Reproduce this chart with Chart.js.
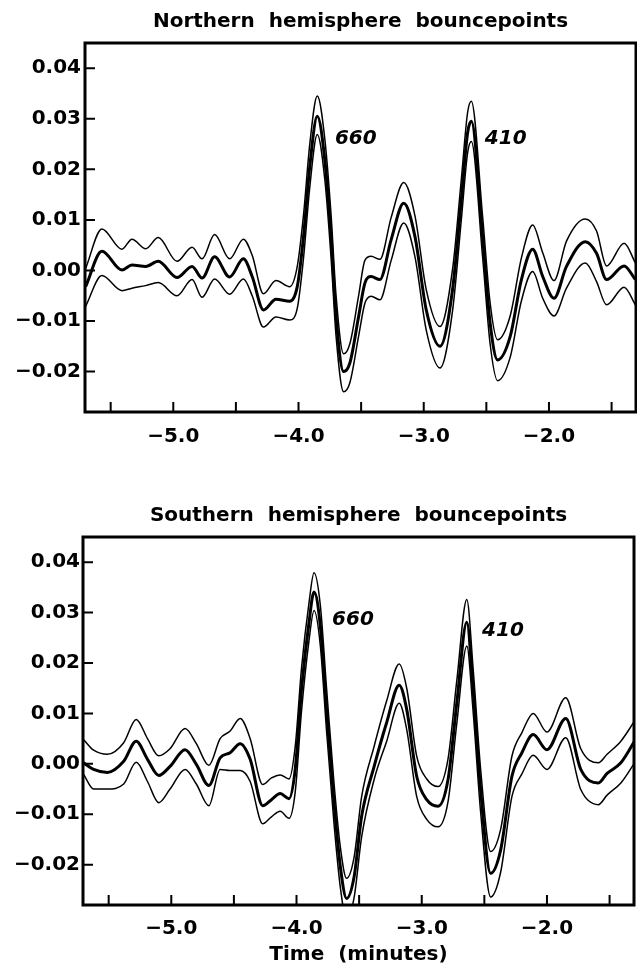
<!DOCTYPE html>
<html>
<head>
<meta charset="utf-8">
<title>Bouncepoints</title>
<script src="https://cdn.jsdelivr.net/npm/chart.js@4.4.1/dist/chart.umd.min.js"></script>
<style>
  html, body { margin: 0; padding: 0; background: #fff; }
  #wrap { position: relative; width: 637px; height: 969px; }
  canvas { position: absolute; left: 0; }
  #north { top: 0; }
  #south { top: 480px; }
</style>
</head>
<body>
<div id="wrap">
  <canvas id="north" width="637" height="480"></canvas>
  <canvas id="south" width="637" height="489"></canvas>
</div>
<script>
// ---------------------------
// Data
// time in minutes, amplitude
// ---------------------------
const northTime = [-5.70, -5.57, -5.41, -5.33, -5.22, -5.12, -4.97, -4.85, -4.77, -4.67, -4.55, -4.44, -4.37,
  -4.28, -4.18, -4.07, -4.01, -3.96, -3.91, -3.85, -3.79, -3.74, -3.70, -3.64, -3.59, -3.52, -3.47, -3.42,
  -3.35, -3.26, -3.16, -3.07, -2.98, -2.87, -2.77, -2.70, -2.65, -2.62, -2.53, -2.47, -2.41, -2.31, -2.22,
  -2.13, -2.05, -1.96, -1.86, -1.71, -1.62, -1.54, -1.40, -1.31];
const northMean = [-0.0032, 0.0038, 0.0001, 0.0011, 0.0008, 0.0018, -0.0014, 0.0008, -0.0015, 0.0027, -0.0013, 0.0023, -0.0012,
  -0.0078, -0.0057, -0.0061, -0.0032, 0.0067, 0.0206, 0.0305, 0.0219, 0.0067, -0.0091, -0.0200, -0.0183, -0.0091, -0.0025, -0.0012,
  -0.0018, 0.0061, 0.0133, 0.0067, -0.0078, -0.0150, -0.0038, 0.0140, 0.0272, 0.0295, 0.0067, -0.0104, -0.0177, -0.0131, -0.0018,
  0.0042, -0.0012, -0.0055, 0.0008, 0.0057, 0.0034, -0.0018, 0.0009, -0.0018];
const northUpper = [0.0004, 0.0082, 0.0042, 0.0062, 0.0043, 0.0065, 0.0018, 0.0046, 0.0023, 0.0071, 0.0023, 0.0062, 0.0030,
  -0.0046, -0.0020, -0.0032, 0.0008, 0.0110, 0.0250, 0.0345, 0.0260, 0.0110, -0.0050, -0.0165, -0.0145, -0.0050, 0.0020, 0.0028,
  0.0022, 0.0105, 0.0174, 0.0108, -0.0038, -0.0111, 0.0002, 0.0180, 0.0312, 0.0335, 0.0107, -0.0064, -0.0137, -0.0090, 0.0025,
  0.0090, 0.0035, -0.0020, 0.0058, 0.0102, 0.0078, 0.0009, 0.0054, 0.0015];
const northLower = [-0.0071, -0.0010, -0.0040, -0.0035, -0.0030, -0.0024, -0.0050, -0.0018, -0.0053, -0.0017, -0.0047, -0.0017, -0.0050,
  -0.0112, -0.0092, -0.0098, -0.0075, 0.0025, 0.0165, 0.0269, 0.0180, 0.0025, -0.0130, -0.0240, -0.0222, -0.0130, -0.0065, -0.0051,
  -0.0058, 0.0020, 0.0094, 0.0027, -0.0118, -0.0193, -0.0080, 0.0100, 0.0232, 0.0255, 0.0027, -0.0145, -0.0218, -0.0172, -0.0060,
  -0.0002, -0.0055, -0.0090, -0.0035, 0.0015, -0.0022, -0.0068, -0.0033, -0.0068];

const southTime = [-5.70, -5.62, -5.51, -5.38, -5.28, -5.19, -5.10, -5.01, -4.89, -4.80, -4.70, -4.61, -4.53, -4.45,
  -4.37, -4.27, -4.20, -4.13, -4.06, -4.01, -3.96, -3.90, -3.86, -3.81, -3.76, -3.70, -3.65, -3.60, -3.54, -3.48,
  -3.38, -3.28, -3.18, -3.12, -3.04, -2.96, -2.87, -2.79, -2.72, -2.64, -2.59, -2.53, -2.45, -2.37, -2.28, -2.20,
  -2.11, -2.00, -1.85, -1.73, -1.59, -1.52, -1.41, -1.30];
const southMean = [0.0002, -0.0011, -0.0017, 0.0005, 0.0045, 0.0009, -0.0023, -0.0005, 0.0028, -0.0001, -0.0043, 0.0012, 0.0022, 0.0040,
  0.0009, -0.0083, -0.0071, -0.0059, -0.0069, -0.0010, 0.0148, 0.0281, 0.0341, 0.0274, 0.0108, -0.0078, -0.0204, -0.0267, -0.0224, -0.0104,
  -0.0005, 0.0082, 0.0156, 0.0108, -0.0025, -0.0071, -0.0084, -0.0031, 0.0121, 0.0281, 0.0148, -0.0051, -0.0217, -0.0171, -0.0025, 0.0022,
  0.0058, 0.0028, 0.0090, -0.0011, -0.0038, -0.0019, 0.0002, 0.0045];
const southUpper = [0.0048, 0.0027, 0.0019, 0.0042, 0.0088, 0.0050, 0.0016, 0.0030, 0.0070, 0.0040, -0.0003, 0.0050, 0.0065, 0.0090,
  0.0050, -0.0041, -0.0028, -0.0022, -0.0030, 0.0035, 0.0190, 0.0320, 0.0379, 0.0315, 0.0150, -0.0040, -0.0165, -0.0227, -0.0185, -0.0065,
  0.0035, 0.0125, 0.0198, 0.0150, 0.0015, -0.0030, -0.0045, 0.0010, 0.0165, 0.0326, 0.0190, -0.0010, -0.0174, -0.0130, 0.0015, 0.0062,
  0.0100, 0.0063, 0.0131, 0.0030, 0.0002, 0.0019, 0.0045, 0.0085];
const southLower = [-0.0021, -0.0050, -0.0050, -0.0040, 0.0003, -0.0035, -0.0077, -0.0050, -0.0011, -0.0040, -0.0083, -0.0011, -0.0013, -0.0013,
  -0.0035, -0.0119, -0.0105, -0.0094, -0.0108, -0.0055, 0.0105, 0.0245, 0.0304, 0.0235, 0.0065, -0.0120, -0.0245, -0.0310, -0.0265, -0.0145,
  -0.0031, 0.0045, 0.0120, 0.0068, -0.0065, -0.0110, -0.0125, -0.0075, 0.0080, 0.0234, 0.0105, -0.0095, -0.0264, -0.0215, -0.0065, -0.0020,
  0.0017, -0.0011, 0.0052, -0.0051, -0.0081, -0.0062, -0.0038, 0.0002];

const peakLabels = ['660', '410'];

const FONT = '"DejaVu Sans", "Liberation Sans", sans-serif';
const MINUS = '\u2212';

// inward ticks, heavy frame, panel title and phase labels
const framePlugin = {
  id: 'frame',
  afterDatasetsDraw(chart, args, opts) {
    const { ctx, chartArea: a } = chart;
    const x = chart.scales.x;
    const y = chart.scales.y;
    ctx.save();
    ctx.strokeStyle = '#000';
    ctx.fillStyle = '#000';
    ctx.lineWidth = 2;
    ctx.beginPath();
    x.ticks.forEach(t => {
      const px = x.getPixelForValue(t.value);
      ctx.moveTo(px, a.bottom);
      ctx.lineTo(px, a.bottom - 10);
    });
    y.ticks.forEach(t => {
      const py = y.getPixelForValue(t.value);
      ctx.moveTo(a.left, py);
      ctx.lineTo(a.left + 10, py);
    });
    ctx.stroke();

    ctx.lineWidth = 3;
    ctx.strokeRect(a.left, a.top, a.right - a.left, a.bottom - a.top);

    ctx.font = 'bold 20px ' + FONT;
    ctx.textAlign = 'center';
    ctx.textBaseline = 'middle';
    ctx.fillText(opts.title, (a.left + a.right) / 2, opts.titleY);

    ctx.font = 'italic bold 20px ' + FONT;
    ctx.textAlign = 'left';
    opts.peaks.forEach((p, i) => {
      ctx.fillText(peakLabels[i], x.getPixelForValue(p[0]), y.getPixelForValue(p[1]));
    });
    ctx.restore();
  }
};

function toPoints(times, values) {
  return times.map((t, i) => ({ x: t, y: values[i] }));
}

function curve(times, values, width) {
  return {
    data: toPoints(times, values),
    borderColor: '#000',
    borderWidth: width,
    pointRadius: 0,
    fill: false,
    cubicInterpolationMode: 'monotone',
    clip: 0
  };
}

function makePanel(id, cfg) {
  return new Chart(document.getElementById(id), {
    type: 'line',
    data: {
      datasets: [
        curve(cfg.time, cfg.upper, 1.5),
        curve(cfg.time, cfg.lower, 1.5),
        curve(cfg.time, cfg.mean, 3)
      ]
    },
    options: {
      responsive: false,
      animation: false,
      layout: { padding: { top: cfg.top, right: cfg.right, left: 0, bottom: 0 } },
      plugins: {
        legend: { display: false },
        tooltip: { enabled: false },
        frame: { title: cfg.title, titleY: cfg.titleY, peaks: cfg.peaks }
      },
      scales: {
        x: {
          type: 'linear',
          min: -5.705,
          max: -1.305,
          grid: { display: false, drawTicks: false },
          border: { display: false },
          ticks: {
            stepSize: 0.5,
            includeBounds: false,
            autoSkip: false,
            maxRotation: 0,
            padding: cfg.xPad,
            color: '#000',
            font: { family: FONT, size: 20, weight: 'bold' },
            callback: v => Math.abs(v - Math.round(v)) < 1e-6 ? MINUS + Math.abs(v).toFixed(1) : ''
          },
          title: {
            display: !!cfg.xTitle,
            text: cfg.xTitle || '',
            color: '#000',
            font: { family: FONT, size: 20, weight: 'bold' },
            padding: { top: 0, bottom: 2 }
          },
          afterFit: s => { s.height = cfg.xHeight; }
        },
        y: {
          min: -0.028,
          max: 0.045,
          grid: { display: false, drawTicks: false },
          border: { display: false },
          ticks: {
            stepSize: 0.01,
            includeBounds: false,
            padding: cfg.yPad,
            color: '#000',
            font: { family: FONT, size: 20, weight: 'bold' },
            callback: v => {
              const s = Math.abs(v).toFixed(2);
              return v < -1e-6 ? MINUS + s : s;
            }
          },
          afterFit: s => { s.width = cfg.yWidth; }
        }
      }
    },
    plugins: [framePlugin]
  });
}

makePanel('north', {
  time: northTime, mean: northMean, upper: northUpper, lower: northLower,
  title: 'Northern  hemisphere  bouncepoints', titleY: 22,
  peaks: [[-3.709, 0.0261], [-2.512, 0.0261]],
  top: 43, right: 1, xHeight: 68, yWidth: 85, xPad: 13, yPad: 4
});

makePanel('south', {
  time: southTime, mean: southMean, upper: southUpper, lower: southLower,
  title: 'Southern  hemisphere  bouncepoints', titleY: 36,
  peaks: [[-3.716, 0.0285], [-2.518, 0.0263]],
  top: 57, right: 3, xHeight: 64, yWidth: 83, xPad: 12, yPad: 3,
  xTitle: 'Time  (minutes)'
});
</script>
</body>
</html>
